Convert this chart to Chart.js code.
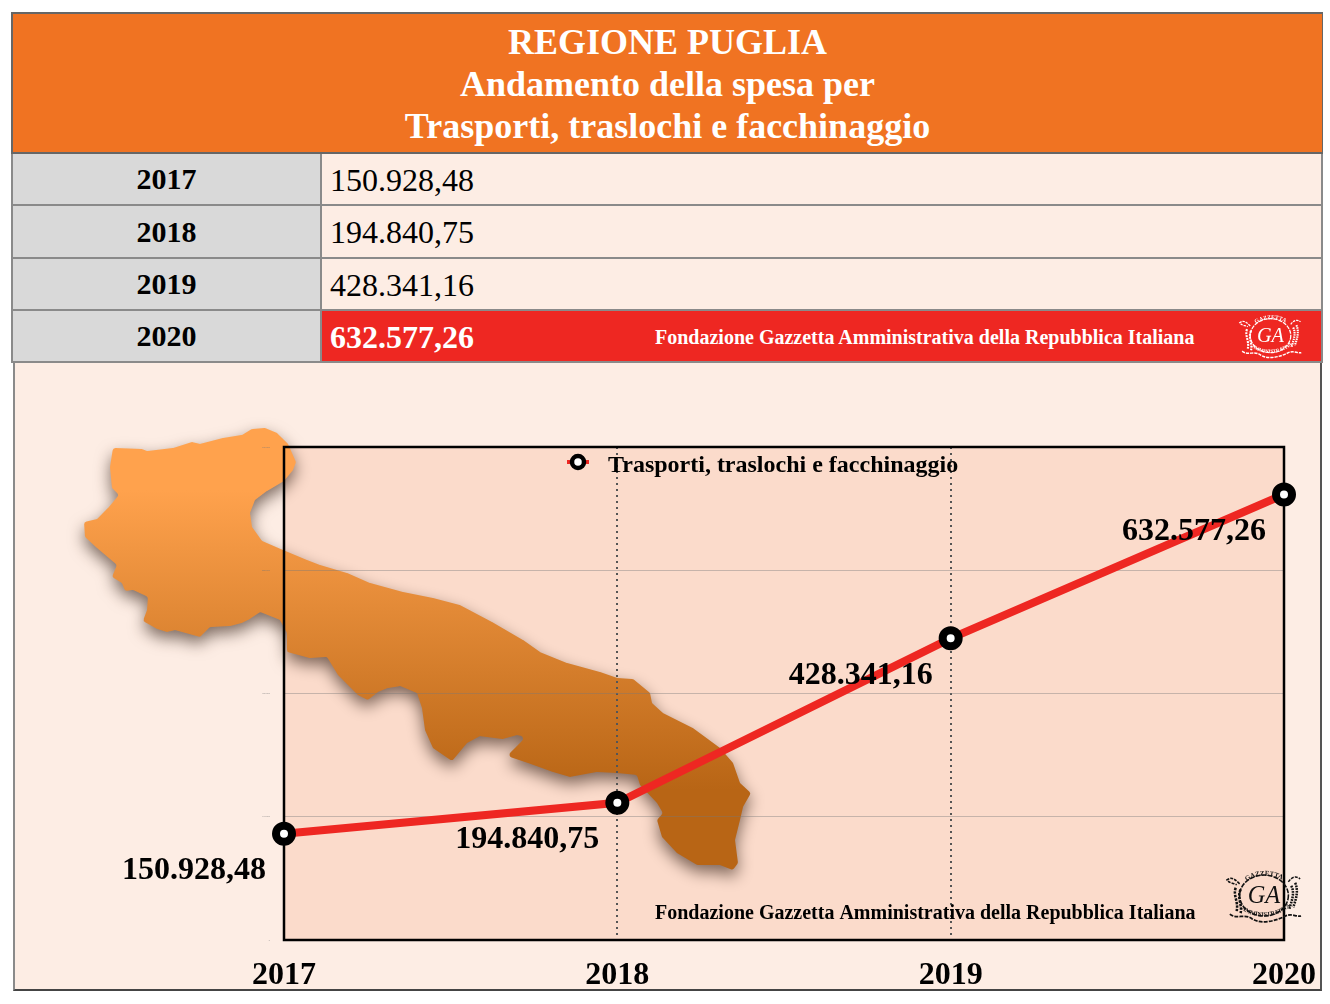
<!DOCTYPE html>
<html lang="it">
<head>
<meta charset="utf-8">
<title>Regione Puglia</title>
<script src="https://cdn.jsdelivr.net/npm/chart.js@4"></script>
<style>
  html, body { margin: 0; padding: 0; background: #fff; }
  body { position: relative; width: 1330px; height: 1004px; overflow: hidden; font-family: "Liberation Serif", serif; color: #000; }
  #panel { position: absolute; left: 13px; top: 363px; width: 1305px; height: 626px; background: #fdede4;
           border-left: 2px solid #8a8a8a; border-right: 2px solid #555; border-bottom: 2px solid #444; }
  #head { position: absolute; left: 11px; top: 12px; width: 1309px; height: 138px; background: #f07322; border: 1px solid #666;
          border-width: 2px 1px 2px 2px; color: #fff; font-weight: bold; font-size: 36px; line-height: 42px; text-align: center; }
  #head div:first-child { padding-top: 7px; }
  .yr, .val { position: absolute; }
  .yr { left: 11px; width: 307px; background: #d9d9d9; border: 2px solid #8a8a8a; border-top: 0; text-align: center; font-weight: bold; font-size: 30px; }
  .val { left: 322px; width: 991px; padding-left: 8px; background: #fdede4; border: 2px solid #8a8a8a; border-left: 0; border-top: 0; font-size: 32px; }
  .val.top { background: #ee2722; color: #fff; font-weight: bold; }
  .val.top span { position: absolute; left: 333px; top: 0; font-size: 20px; white-space: nowrap; }
  #chartCanvas { position: absolute; left: 0; top: 0; }
  .logo { position: absolute; overflow: visible; }
</style>
</head>
<body>
<div id="panel"></div>
<div id="head"></div>
<div id="rows"></div>
<canvas id="chartCanvas" width="1330" height="1004"></canvas>

<svg width="0" height="0" style="position:absolute">
  <symbol id="gaLogo" viewBox="0 0 80 58" overflow="visible">
    <g fill="none" stroke="currentColor">
      <ellipse cx="40" cy="28" rx="25" ry="21" stroke-width="1.6" stroke-dasharray="5 1.2"/>
      <path d="M15 16 C9 10 6 9 2 12 C5 16 9 15 12 17 M65 14 C69 8 74 8 77 11" stroke-width="1.6" stroke-dasharray="3 1.2"/>
      <path d="M11 20 C8 28 14 34 12 44 M16 22 C12 30 18 38 16 46" stroke-width="2.6" stroke-dasharray="2.5 1.2"/>
      <path d="M68 18 C72 26 68 34 66 42 M72 15 C76 24 72 34 70 40" stroke-width="2.6" stroke-dasharray="1.8 1"/>
      <path d="M5 47 C12 53 20 46 28 52 C38 58 52 54 62 49 C68 46 73 50 78 49" stroke-width="1.8" stroke-dasharray="4 1.2"/>
      <path id="gaArcTop" d="M20 15 C30 5 50 5 62 14" stroke="none"/>
      <path id="gaArcBottom" d="M16 41 C28 52 50 52 66 40" stroke="none"/>
    </g>
    <g fill="currentColor" font-family="Liberation Serif, serif">
      <text x="40" y="36" text-anchor="middle" font-size="25" font-style="italic">GA</text>
      <text font-size="7" font-weight="bold"><textPath href="#gaArcTop" startOffset="6%">GAZZETTA</textPath></text>
      <text font-size="6" font-weight="bold"><textPath href="#gaArcBottom" startOffset="2%">AMMINISTRATIVA</textPath></text>
    </g>
  </symbol>
</svg>
<svg class="logo" style="left:1238px;top:313px;color:#fff" width="65" height="47"><use href="#gaLogo" width="65" height="47"/></svg>
<svg class="logo" style="left:1225px;top:868px;color:#111" width="78" height="57"><use href="#gaLogo" width="78" height="57"/></svg>

<script>
const titleLines = ['REGIONE PUGLIA', 'Andamento della spesa per', 'Trasporti, traslochi e facchinaggio'];
const years = ['2017', '2018', '2019', '2020'];
const spesa = [150928.48, 194840.75, 428341.16, 632577.26];
const yTicks = [0, 175000, 350000, 525000, 700000];
const seriesName = 'Trasporti, traslochi e facchinaggio';
const fondazione = 'Fondazione Gazzetta Amministrativa della Repubblica Italiana';

// outline of the region
const mapOutline = [
  [113,448],[142,449],[147,451],[173,448],[192,442],[200,444],[223,438],[242,435],[252,429],[265,428],[277,433],[288,444],
  [292,453],[296,462],[293,470],[284,481],[267,491],[255,500],[250,513],[252,527],[262,541],[283,550],[307,560],[320,565],
  [347,573],[370,583],[403,592],[433,598],[460,605],[492,622],[523,640],[540,652],[567,663],[600,672],[617,678],[633,679],
  [650,693],[652,703],[663,713],[693,728],[720,748],[733,763],[740,783],[751,793],[743,807],[740,820],[735,840],[738,863],
  [733,870],[720,865],[697,865],[677,853],[662,837],[657,820],[663,813],[657,803],[640,785],[637,775],[617,773],[597,772],
  [570,777],[553,772],[528,763],[507,756],[515,748],[526,737],[517,735],[503,739],[480,736],[467,743],[452,761],[433,748],
  [425,730],[422,708],[417,693],[400,686],[388,688],[378,692],[368,700],[358,695],[338,675],[327,657],[310,658],[287,652],
  [287,633],[280,620],[260,612],[248,620],[242,623],[230,626],[210,627],[200,637],[175,630],[167,632],[157,629],[143,621],
  [147,610],[148,597],[133,590],[125,591],[122,583],[112,577],[117,565],[97,548],[85,537],[84,522],[97,519],[108,508],
  [119,495],[112,488],[110,467]
];

const fmt = (n) => n.toLocaleString('it-IT', { minimumFractionDigits: 2, maximumFractionDigits: 2 });

// testata e tabella
document.getElementById('head').innerHTML = titleLines.map(t => `<div>${t}</div>`).join('');
const rowTops = [154, 206, 259, 311];
const rowHeights = [50, 51, 50, 50];
document.getElementById('rows').innerHTML = years.map((y, i) => {
  const last = i === years.length - 1;
  const extra = last ? `<span style="line-height:52px">${fondazione}</span>` : '';
  const box = `top:${rowTops[i]}px;height:${rowHeights[i]}px;`;
  return `<div class="yr" style="${box}line-height:${rowHeights[i]}px">${y}</div>` +
         `<div class="val${last ? ' top' : ''}" style="${box}line-height:${rowHeights[i] + 2}px">${fmt(spesa[i])}${extra}</div>`;
}).join('');

// legend marker: red stub behind the ring
function legendMarker() {
  const c = document.createElement('canvas');
  c.width = 24; c.height = 28;
  const g = c.getContext('2d');
  g.fillStyle = '#ee2722';
  g.fillRect(1, 8, 22, 4);
  g.beginPath();
  g.arc(12, 10, 6, 0, Math.PI * 2);
  g.fillStyle = '#fff';
  g.fill();
  g.lineWidth = 4.5;
  g.strokeStyle = '#000';
  g.stroke();
  return c;
}

const backdrop = {
  id: 'backdrop',
  beforeDraw(chart) {
    const { ctx, chartArea: a } = chart;
    ctx.save();
    ctx.fillStyle = '#fbdbcb';
    ctx.fillRect(a.left, a.top, a.right - a.left, a.bottom - a.top);

    const grad = ctx.createLinearGradient(0, 490, 0, 790);
    grad.addColorStop(0, '#ffa24d');
    grad.addColorStop(1, '#b86515');
    ctx.beginPath();
    const n = mapOutline.length;
    const start = mapOutline[n - 1];
    const first = mapOutline[0];
    ctx.moveTo((start[0] + first[0]) / 2, (start[1] + first[1]) / 2);
    mapOutline.forEach((p, i) => {
      const next = mapOutline[(i + 1) % n];
      ctx.arcTo(p[0], p[1], next[0], next[1], 3);
    });
    ctx.closePath();
    ctx.shadowColor = 'rgba(40,20,10,0.6)';
    ctx.shadowBlur = 16;
    ctx.shadowOffsetY = 7;
    ctx.fillStyle = grad;
    ctx.fill();
    ctx.restore();
  },
  afterLayout(chart) {
    chart.legend.left = 550;
    chart.legend.top = 444;
  },
  beforeDatasetsDraw(chart) {
    const { ctx, chartArea: a } = chart;
    ctx.save();
    ctx.strokeStyle = '#000';
    ctx.lineWidth = 2.5;
    ctx.strokeRect(a.left, a.top, a.right - a.left, a.bottom - a.top);
    ctx.fillStyle = '#000';
    ctx.font = 'bold 20px "Liberation Serif"';
    ctx.textBaseline = 'middle';
    ctx.fillText(fondazione, 655, 914);
    ctx.restore();
  }
};

const valueLabels = {
  id: 'valueLabels',
  afterDatasetsDraw(chart) {
    const { ctx } = chart;
    const pts = chart.getDatasetMeta(0).data;
    ctx.save();
    ctx.font = 'bold 32px "Liberation Serif"';
    ctx.fillStyle = '#000';
    ctx.textAlign = 'right';
    ctx.textBaseline = 'middle';
    pts.forEach((pt, i) => ctx.fillText(fmt(spesa[i]), pt.x - 18, pt.y + 37));
    ctx.restore();
  }
};

new Chart(document.getElementById('chartCanvas').getContext('2d'), {
  type: 'line',
  data: {
    labels: years,
    datasets: [{
      label: seriesName,
      data: spesa,
      borderColor: '#ee2722',
      borderWidth: 8,
      backgroundColor: '#fff',
      pointBackgroundColor: '#fff',
      pointBorderColor: '#000',
      pointBorderWidth: 8,
      pointRadius: 8,
      pointHoverRadius: 8,
      tension: 0,
      clip: false
    }]
  },
  options: {
    responsive: false,
    animation: false,
    devicePixelRatio: 1,
    layout: { padding: { top: 447, right: 46, left: 0, bottom: 0 } },
    plugins: {
      tooltip: { enabled: false },
      legend: {
        position: 'chartArea',
        align: 'start',
        labels: {
          color: '#000',
          font: { family: '"Liberation Serif"', weight: 'bold', size: 24 },
          usePointStyle: true,
          pointStyleWidth: 36,
          boxHeight: 20,
          padding: 10,
          generateLabels: () => [{ text: seriesName, pointStyle: legendMarker(), fontColor: '#000', datasetIndex: 0 }]
        }
      }
    },
    scales: {
      x: {
        offset: false,
        afterFit: (s) => { s.height = 64; s.paddingLeft = 0; s.paddingRight = 0; },
        border: { display: false, dash: [2, 4] },
        grid: { color: '#555', lineWidth: 2, drawTicks: false },
        ticks: {
          color: '#000',
          padding: 17,
          maxRotation: 0,
          font: { family: '"Liberation Serif"', weight: 'bold', size: 32 }
        }
      },
      y: {
        min: 0,
        max: yTicks[yTicks.length - 1],
        afterFit: (s) => { s.width = 284; s.paddingTop = 0; s.paddingBottom = 0; },
        afterBuildTicks: (s) => { s.ticks = yTicks.map(v => ({ value: v })); },
        border: { display: false },
        grid: { color: 'rgba(120,120,120,0.4)', lineWidth: 1, drawTicks: false },
        ticks: {
          color: '#777',
          padding: 14,
          font: { family: '"Liberation Serif"', size: 2.5 },
          callback: (v) => v.toLocaleString('it-IT')
        }
      }
    }
  },
  plugins: [backdrop, valueLabels]
});
</script>
</body>
</html>
